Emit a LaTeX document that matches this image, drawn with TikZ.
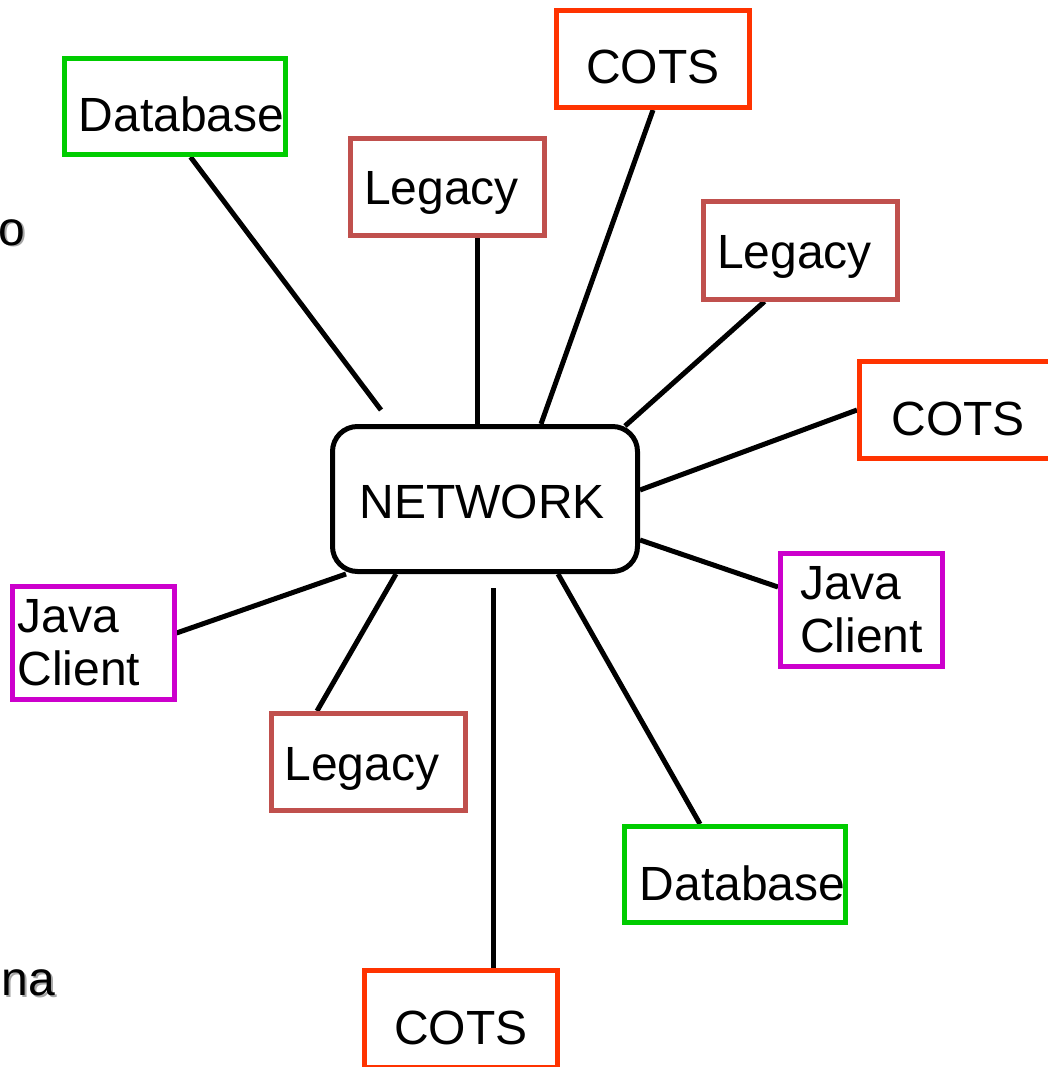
\documentclass[tikz,border=0pt]{standalone}
\usepackage{fontspec}
\setmainfont{Liberation Sans}
\usetikzlibrary{backgrounds}

\definecolor{dbgreen}{RGB}{0,204,0}
\definecolor{legacyred}{RGB}{192,80,77}
\definecolor{cotsred}{RGB}{255,51,0}
\definecolor{javapink}{RGB}{204,0,204}

% move a label sideways inside its box
\newcommand{\nudge}[2]{\hspace*{#1}#2\hspace*{-#1}}

\tikzset{
  box/.style={draw, line width=5pt, fill=white, inner sep=0pt,
    font=\fontsize{48}{53}\selectfont},
  cotsbox/.style={box, draw=cotsred, minimum width=193pt, minimum height=97pt,
    text height=50pt, text depth=0pt},
  legacybox/.style={box, draw=legacyred, minimum width=194pt, minimum height=97pt,
    text height=36pt, text depth=0pt},
  dbbox/.style={box, draw=dbgreen, minimum width=221pt, minimum height=96pt,
    text height=51pt, text depth=0pt},
  javabox/.style={box, draw=javapink, align=left, minimum width=162pt, minimum height=113pt},
  netbox/.style={box, draw=black, rounded corners=25pt, minimum width=305pt, minimum height=145pt,
    text height=38pt, text depth=0pt},
  link/.style={line width=5pt},
  cuttext/.style={inner sep=0pt, font=\fontsize{48}{53}\selectfont}
}

\begin{document}
\begin{tikzpicture}[x=1pt,y=-1pt]
%\draw[help lines] (0,0) grid (1048,1067);
\useasboundingbox (0,0) rectangle (1048,1067);
\clip (0,0) rectangle (1048,1067);

% cut off text at the left edge
\node[cuttext, anchor=base west, text=black!35] (oshadow) at (0,247) {o};
\node[cuttext, anchor=base west] (o) at (-2,245) {o};
\node[cuttext, anchor=base east, text=black!35] (nashadow) at (57,997) {na};
\node[cuttext, anchor=base east] (na) at (55,995) {na};

\node[netbox] (net) at (485,499) {\nudge{-3pt}{NETWORK}};

\node[dbbox] (dbtop) at (174.5,106.5) {\nudge{7pt}{Database}};
\node[legacybox] (legtop) at (447.5,187) {\nudge{-6pt}{Legacy}};
\node[cotsbox] (cotstop) at (653,59) {COTS};
\node[legacybox] (legright) at (800.5,250.5) {\nudge{-6pt}{Legacy}};
\node[cotsbox] (cotsright) at (956,410) {\nudge{2pt}{COTS}};
\node[javabox] (javaright) at (861.5,610) {Java\\Client};
\node[dbbox] (dbbot) at (734.5,874.5) {\nudge{8pt}{Database}};
\node[cotsbox] (cotsbot) at (461,1019) {COTS};
\node[legacybox] (legbot) at (368,762) {\nudge{-6pt}{Legacy}};
\node[javabox] (javaleft) at (93,642.5) {\nudge{-14pt}{Java}\\\nudge{-14pt}{Client}};

\coordinate (dbend) at (381,410);
\coordinate (cotsend) at (493,588);

\begin{scope}[on background layer]
\draw[link] ([xshift=16pt]dbtop.south) -- (dbend);
\draw[link] ([xshift=30pt]legtop.south) -- ([xshift=30pt]legtop.south |- net.north);
\draw[link] (cotstop.south) -- ([xshift=56pt]net.north);
\draw[link] ([xshift=-36pt]legright.south) -- ([xshift=-15pt,yshift=-2pt]net.north east);
\draw[link] (cotsright.west) -- ([yshift=9pt]net.east);
\draw[link] ([yshift=23pt]javaright.west) -- ([yshift=-41pt]net.east);
\draw[link] ([xshift=-34.5pt]dbbot.north) -- ([xshift=73pt]net.south);
\draw[link] ([xshift=32pt]cotsbot.north) -- (cotsend);
\draw[link] ([xshift=-51pt]legbot.north) -- ([xshift=-89pt]net.south);
\draw[link] ([yshift=9.5pt]javaleft.east) -- ([xshift=16pt]net.south west);
\end{scope}
\end{tikzpicture}
\end{document}
